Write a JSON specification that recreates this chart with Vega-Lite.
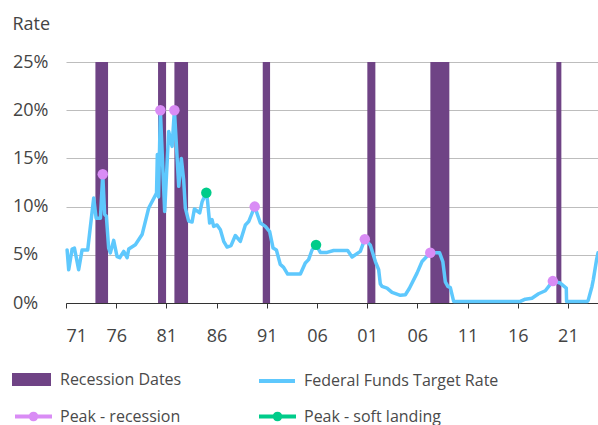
{
  "$schema": "https://vega.github.io/schema/vega-lite/v6.json",
  "autosize": {"type": "none"},
  "padding": {"left": 66, "top": 62, "right": 0, "bottom": 122},
  "width": 532,
  "height": 241,
  "background": "white",
  "config": {
    "view": {"stroke": null},
    "font": "Open Sans",
    "legend": {
      "orient": "none",
      "title": null,
      "labelFont": "Open Sans",
      "labelFontSize": 16,
      "labelColor": "#4a4a4a",
      "labelLimit": 0,
      "labelOffset": 8
    }
  },
  "datasets": {
    "recessions": [
      {"start": 1973.93, "end": 1975.19},
      {"start": 1980.17, "end": 1980.97},
      {"start": 1981.80, "end": 1983.16},
      {"start": 1990.60, "end": 1991.33},
      {"start": 2001.02, "end": 2001.82},
      {"start": 2007.30, "end": 2009.19},
      {"start": 2019.85, "end": 2020.35}
    ],
    "rate": [
      {"year": 1971.11, "rate": 5.5},
      {"year": 1971.27, "rate": 3.45},
      {"year": 1971.61, "rate": 5.6},
      {"year": 1971.84, "rate": 5.7},
      {"year": 1972.26, "rate": 3.45},
      {"year": 1972.60, "rate": 5.5},
      {"year": 1973.16, "rate": 5.5},
      {"year": 1973.76, "rate": 10.9},
      {"year": 1974.00, "rate": 8.8},
      {"year": 1974.43, "rate": 8.8},
      {"year": 1974.66, "rate": 13.36},
      {"year": 1974.85, "rate": 9.2},
      {"year": 1975.02, "rate": 9.0},
      {"year": 1975.25, "rate": 5.7},
      {"year": 1975.42, "rate": 5.2},
      {"year": 1975.75, "rate": 6.5},
      {"year": 1976.09, "rate": 4.8},
      {"year": 1976.35, "rate": 4.7},
      {"year": 1976.75, "rate": 5.35},
      {"year": 1977.09, "rate": 4.7},
      {"year": 1977.25, "rate": 5.6},
      {"year": 1977.91, "rate": 6.05},
      {"year": 1978.58, "rate": 7.1},
      {"year": 1979.24, "rate": 9.85},
      {"year": 1980.02, "rate": 11.4},
      {"year": 1980.10, "rate": 15.4},
      {"year": 1980.22, "rate": 11.0},
      {"year": 1980.40, "rate": 20.0},
      {"year": 1980.83, "rate": 9.5},
      {"year": 1981.23, "rate": 17.8},
      {"year": 1981.57, "rate": 16.25},
      {"year": 1981.80, "rate": 20.0},
      {"year": 1982.23, "rate": 12.1},
      {"year": 1982.49, "rate": 15.0},
      {"year": 1982.72, "rate": 12.8},
      {"year": 1982.89, "rate": 9.85},
      {"year": 1983.22, "rate": 8.5},
      {"year": 1983.56, "rate": 8.4},
      {"year": 1983.79, "rate": 9.75},
      {"year": 1984.32, "rate": 9.35},
      {"year": 1984.56, "rate": 10.5},
      {"year": 1984.98, "rate": 11.44},
      {"year": 1985.10, "rate": 10.6},
      {"year": 1985.31, "rate": 8.3},
      {"year": 1985.55, "rate": 8.65},
      {"year": 1985.71, "rate": 7.95},
      {"year": 1986.05, "rate": 8.1},
      {"year": 1986.38, "rate": 7.6},
      {"year": 1986.71, "rate": 6.4},
      {"year": 1987.05, "rate": 5.8},
      {"year": 1987.44, "rate": 5.95},
      {"year": 1987.87, "rate": 7.0},
      {"year": 1988.37, "rate": 6.4},
      {"year": 1988.87, "rate": 8.1},
      {"year": 1989.20, "rate": 8.45},
      {"year": 1989.80, "rate": 10.0},
      {"year": 1990.36, "rate": 8.3},
      {"year": 1990.86, "rate": 7.95},
      {"year": 1991.29, "rate": 7.4},
      {"year": 1991.63, "rate": 5.7},
      {"year": 1991.96, "rate": 5.5},
      {"year": 1992.35, "rate": 4.0},
      {"year": 1992.68, "rate": 3.7},
      {"year": 1993.08, "rate": 3.0},
      {"year": 1994.35, "rate": 3.0},
      {"year": 1994.84, "rate": 4.15},
      {"year": 1995.17, "rate": 4.5},
      {"year": 1995.51, "rate": 5.5},
      {"year": 1995.91, "rate": 6.03},
      {"year": 1996.34, "rate": 5.25},
      {"year": 1997.01, "rate": 5.25},
      {"year": 1997.66, "rate": 5.45},
      {"year": 1999.06, "rate": 5.45},
      {"year": 1999.50, "rate": 4.77},
      {"year": 2000.32, "rate": 5.35},
      {"year": 2000.77, "rate": 6.62},
      {"year": 2001.32, "rate": 6.0},
      {"year": 2001.82, "rate": 4.3},
      {"year": 2002.15, "rate": 3.45},
      {"year": 2002.31, "rate": 2.0},
      {"year": 2002.48, "rate": 1.72},
      {"year": 2002.98, "rate": 1.55},
      {"year": 2003.48, "rate": 1.1},
      {"year": 2004.31, "rate": 0.8},
      {"year": 2004.81, "rate": 0.86},
      {"year": 2005.20, "rate": 1.5},
      {"year": 2005.97, "rate": 3.1},
      {"year": 2006.47, "rate": 4.3},
      {"year": 2006.80, "rate": 4.67},
      {"year": 2007.29, "rate": 5.22},
      {"year": 2008.22, "rate": 5.2},
      {"year": 2008.54, "rate": 4.3},
      {"year": 2008.79, "rate": 2.2},
      {"year": 2009.04, "rate": 1.72},
      {"year": 2009.29, "rate": 1.6},
      {"year": 2009.62, "rate": 0.16},
      {"year": 2016.26, "rate": 0.16},
      {"year": 2016.76, "rate": 0.4},
      {"year": 2017.42, "rate": 0.5},
      {"year": 2018.08, "rate": 0.96},
      {"year": 2018.75, "rate": 1.27},
      {"year": 2019.50, "rate": 2.27},
      {"year": 2020.24, "rate": 2.07},
      {"year": 2020.84, "rate": 1.55},
      {"year": 2020.87, "rate": 0.16},
      {"year": 2022.93, "rate": 0.16},
      {"year": 2023.03, "rate": 0.3},
      {"year": 2023.40, "rate": 1.72},
      {"year": 2023.53, "rate": 2.4},
      {"year": 2023.86, "rate": 4.5},
      {"year": 2024.00, "rate": 5.2}
    ],
    "peaksRec": [
      {"year": 1974.66, "rate": 13.36},
      {"year": 1980.40, "rate": 20.0},
      {"year": 1981.80, "rate": 20.0},
      {"year": 1989.80, "rate": 10.0},
      {"year": 2000.77, "rate": 6.62},
      {"year": 2007.29, "rate": 5.22},
      {"year": 2019.50, "rate": 2.27}
    ],
    "peaksSoft": [
      {"year": 1984.98, "rate": 11.44},
      {"year": 1995.91, "rate": 6.03}
    ]
  },
  "encoding": {
    "x": {
      "type": "quantitative",
      "scale": {"domain": [1971, 2024], "nice": false, "zero": false},
      "axis": {
        "title": null,
        "values": [1971, 1976, 1981, 1986, 1991, 1996, 2001, 2006, 2011, 2016, 2021],
        "labelExpr": "datum.value == 1996 ? '06' : substring(toString(datum.value), 2)",
        "grid": false,
        "domain": true,
        "domainColor": "#333333",
        "domainWidth": 1,
        "ticks": true,
        "tickSize": 5,
        "tickColor": "#333333",
        "labelFont": "Open Sans",
        "labelFontSize": 18,
        "labelColor": "#444444",
        "labelPadding": 19
      }
    },
    "y": {
      "type": "quantitative",
      "scale": {"domain": [0, 25], "nice": false},
      "axis": {
        "title": "Rate",
        "titleAngle": 0,
        "titleAlign": "left",
        "titleBaseline": "alphabetic",
        "titleX": -54,
        "titleY": -33,
        "titleFont": "Open Sans",
        "titleFontSize": 18,
        "titleFontWeight": "normal",
        "titleColor": "#444444",
        "values": [0, 5, 10, 15, 20, 25],
        "labelExpr": "datum.value + '%'",
        "labelAlign": "left",
        "labelBaseline": "middle",
        "labelPadding": 53.5,
        "labelFont": "Open Sans",
        "labelFontSize": 18,
        "labelColor": "#444444",
        "ticks": false,
        "tickSize": 0,
        "domain": false,
        "grid": true,
        "gridColor": "#bdbdbd",
        "gridWidth": 1
      }
    }
  },
  "layer": [
    {
      "data": {"name": "recessions"},
      "mark": {"type": "rect", "opacity": 1},
      "encoding": {
        "x": {"field": "start"},
        "x2": {"field": "end"},
        "color": {
          "datum": "Recession Dates",
          "scale": {"range": ["#6f4385"]},
          "legend": {
            "legendX": -54,
            "legendY": 298,
            "labelOffset": 9,
            "symbolType": "M-1,-0.33H1V0.33H-1Z",
            "symbolSize": 1521,
            "symbolStrokeWidth": 0
          }
        }
      }
    },
    {
      "data": {"name": "rate"},
      "mark": {"type": "line", "strokeWidth": 3.5, "strokeJoin": "round", "strokeCap": "round"},
      "encoding": {
        "x": {"field": "year"},
        "y": {"field": "rate"},
        "color": {
          "datum": "Federal Funds Target Rate",
          "scale": {"range": ["#5ec8fd"]},
          "legend": {
            "legendX": 191,
            "legendY": 299,
            "labelOffset": 7,
            "symbolType": "stroke",
            "symbolSize": 1296,
            "symbolStrokeWidth": 4
          }
        }
      }
    },
    {
      "data": {"name": "peaksRec"},
      "mark": {"type": "point", "filled": true, "opacity": 1, "size": 110},
      "encoding": {
        "x": {"field": "year"},
        "y": {"field": "rate"},
        "color": {
          "datum": "Peak - recession",
          "scale": {"range": ["#d98cf5"]},
          "legend": {
            "legendX": -53,
            "legendY": 334,
            "labelOffset": 6,
            "symbolType": "M-1,0H1M-0.15,0a0.15,0.15 0 1,0 0.3,0a0.15,0.15 0 1,0 -0.3,0",
            "symbolSize": 1369,
            "symbolStrokeWidth": 4,
            "symbolStrokeColor": "#d98cf5",
            "symbolFillColor": "#d98cf5",
            "symbolOpacity": 1
          }
        }
      }
    },
    {
      "data": {"name": "peaksSoft"},
      "mark": {"type": "point", "filled": true, "opacity": 1, "size": 110},
      "encoding": {
        "x": {"field": "year"},
        "y": {"field": "rate"},
        "color": {
          "datum": "Peak - soft landing",
          "scale": {"range": ["#00cc8a"]},
          "legend": {
            "legendX": 191,
            "legendY": 334,
            "labelOffset": 6,
            "symbolType": "M-1,0H1M-0.15,0a0.15,0.15 0 1,0 0.3,0a0.15,0.15 0 1,0 -0.3,0",
            "symbolSize": 1369,
            "symbolStrokeWidth": 4,
            "symbolStrokeColor": "#00cc8a",
            "symbolFillColor": "#00cc8a",
            "symbolOpacity": 1
          }
        }
      }
    }
  ],
  "resolve": {"scale": {"color": "independent"}, "legend": {"color": "independent"}}
}
